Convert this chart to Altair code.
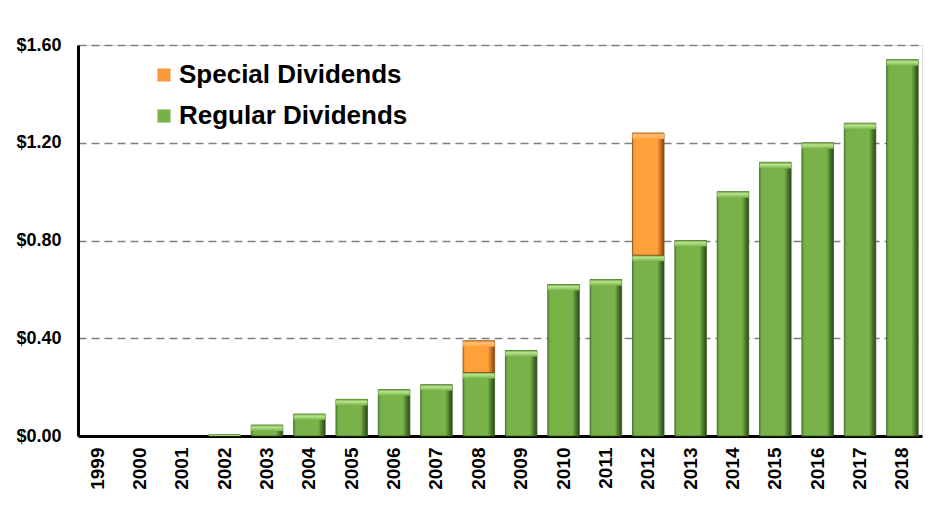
import altair as alt
import pandas as pd

years = [str(y) for y in range(1999, 2019)]
regular = [0.0, 0.0, 0.0, 0.005, 0.045, 0.09, 0.15, 0.19, 0.21, 0.26,
           0.35, 0.62, 0.64, 0.74, 0.80, 1.00, 1.12, 1.20, 1.28, 1.54]
special = [0, 0, 0, 0, 0, 0, 0, 0, 0, 0.13,
           0, 0, 0, 0.50, 0, 0, 0, 0, 0, 0]
series_names = ["Special Dividends", "Regular Dividends"]
series_colors = ["#F7983A", "#77B148"]

df = pd.DataFrame({"year": years, "regular": regular, "special": special})
df["total"] = df["regular"] + df["special"]

long_df = pd.concat([
    pd.DataFrame({"year": years, "series": "Regular Dividends", "value": regular}),
    pd.DataFrame({"year": years, "series": "Special Dividends", "value": special}),
])

FONT = "Liberation Sans"

x_axis = alt.Axis(labelAngle=270, labelFontSize=19, labelFontWeight="bold",
                  labelColor="black", labelFont=FONT, labelPadding=11,
                  labelAlign="right", labelBaseline="middle",
                  ticks=False, domainColor="black", domainWidth=3, grid=False,
                  title=None)
x_scale = alt.Scale(paddingInner=0.255, paddingOuter=0.09)


def xe():
    return alt.X("year:N", sort=years, title=None, scale=x_scale, axis=x_axis)


y_scale = alt.Scale(domain=[0, 1.6], nice=False)
y_axis = alt.Axis(values=[0, 0.4, 0.8, 1.2, 1.6], format="$.2f", labelFontSize=18,
                  labelFontWeight="bold", labelColor="black", labelFont=FONT,
                  labelPadding=17, ticks=False, domainColor="black", domainWidth=3,
                  grid=True, gridColor="#808080", gridDash=[8, 5], gridWidth=1.3,
                  title=None)


def ye(field):
    return alt.Y(field, scale=y_scale, axis=y_axis, title=None)


green_grad = alt.Gradient(gradient="linear", x1=0, x2=1, y1=0, y2=0, stops=[
    alt.GradientStop(color="#5a8e35", offset=0),
    alt.GradientStop(color="#77B148", offset=0.08),
    alt.GradientStop(color="#79B34A", offset=0.78),
    alt.GradientStop(color="#4a772a", offset=0.90),
    alt.GradientStop(color="#2a4417", offset=1)])
orange_grad = alt.Gradient(gradient="linear", x1=0, x2=1, y1=0, y2=0, stops=[
    alt.GradientStop(color="#e08530", offset=0),
    alt.GradientStop(color="#FFA03A", offset=0.08),
    alt.GradientStop(color="#FFA23C", offset=0.78),
    alt.GradientStop(color="#c46c20", offset=0.90),
    alt.GradientStop(color="#854310", offset=1)])
green_top = alt.Gradient(gradient="linear", x1=0, x2=0, y1=0, y2=1, stops=[
    alt.GradientStop(color="#6a9f3e", offset=0),
    alt.GradientStop(color="#b8e58c", offset=0.35),
    alt.GradientStop(color="#79B34A", offset=1)])
orange_top = alt.Gradient(gradient="linear", x1=0, x2=0, y1=0, y2=1, stops=[
    alt.GradientStop(color="#d97a25", offset=0),
    alt.GradientStop(color="#ffc27a", offset=0.35),
    alt.GradientStop(color="#FFA23C", offset=1)])

base = alt.Chart(df)

reg_bars = base.transform_filter("datum.regular > 0").mark_bar(
    color=green_grad, stroke="#3e5f25", strokeWidth=0.8).encode(
    x=xe(),
    y=ye("regular:Q"),
    y2=alt.datum(0),
)

reg_top = base.transform_filter("datum.regular > 0").transform_calculate(
    top_lo="max(datum.regular - 0.025, 0)"
).mark_bar(color=green_top).encode(
    x=xe(),
    y=ye("regular:Q"),
    y2="top_lo:Q",
)

spec_bars = base.transform_filter("datum.special > 0").mark_bar(
    color=orange_grad, stroke="#8a4712", strokeWidth=0.8).encode(
    x=xe(),
    y=ye("total:Q"),
    y2="regular:Q",
)

spec_top = base.transform_filter("datum.special > 0").transform_calculate(
    top_lo="datum.total - 0.025"
).mark_bar(color=orange_top).encode(
    x=xe(),
    y=ye("total:Q"),
    y2="top_lo:Q",
)

legend_layer = alt.Chart(long_df).mark_bar(opacity=0).encode(
    x=xe(),
    y=alt.Y("value:Q", stack="zero", scale=y_scale, axis=y_axis, title=None),
    color=alt.Color("series:N",
                    scale=alt.Scale(domain=series_names, range=series_colors),
                    legend=alt.Legend(title=None, orient="none", legendX=73, legendY=17,
                                      symbolType="square", symbolSize=170,
                                      symbolOpacity=1, symbolStrokeWidth=0,
                                      labelFontSize=26, labelFontWeight="bold",
                                      labelFont=FONT, labelColor="black", labelLimit=0,
                                      rowPadding=15, symbolOffset=0, labelOffset=2)),
)

chart = alt.layer(reg_bars, reg_top, spec_bars, spec_top, legend_layer).properties(
    width=844, height=391,
    padding={"left": 7, "top": 28, "right": 5, "bottom": 5},
).configure_view(stroke=None).configure(background="white")

chart.save("out.html", embed_options={"renderer": "svg", "actions": False})
